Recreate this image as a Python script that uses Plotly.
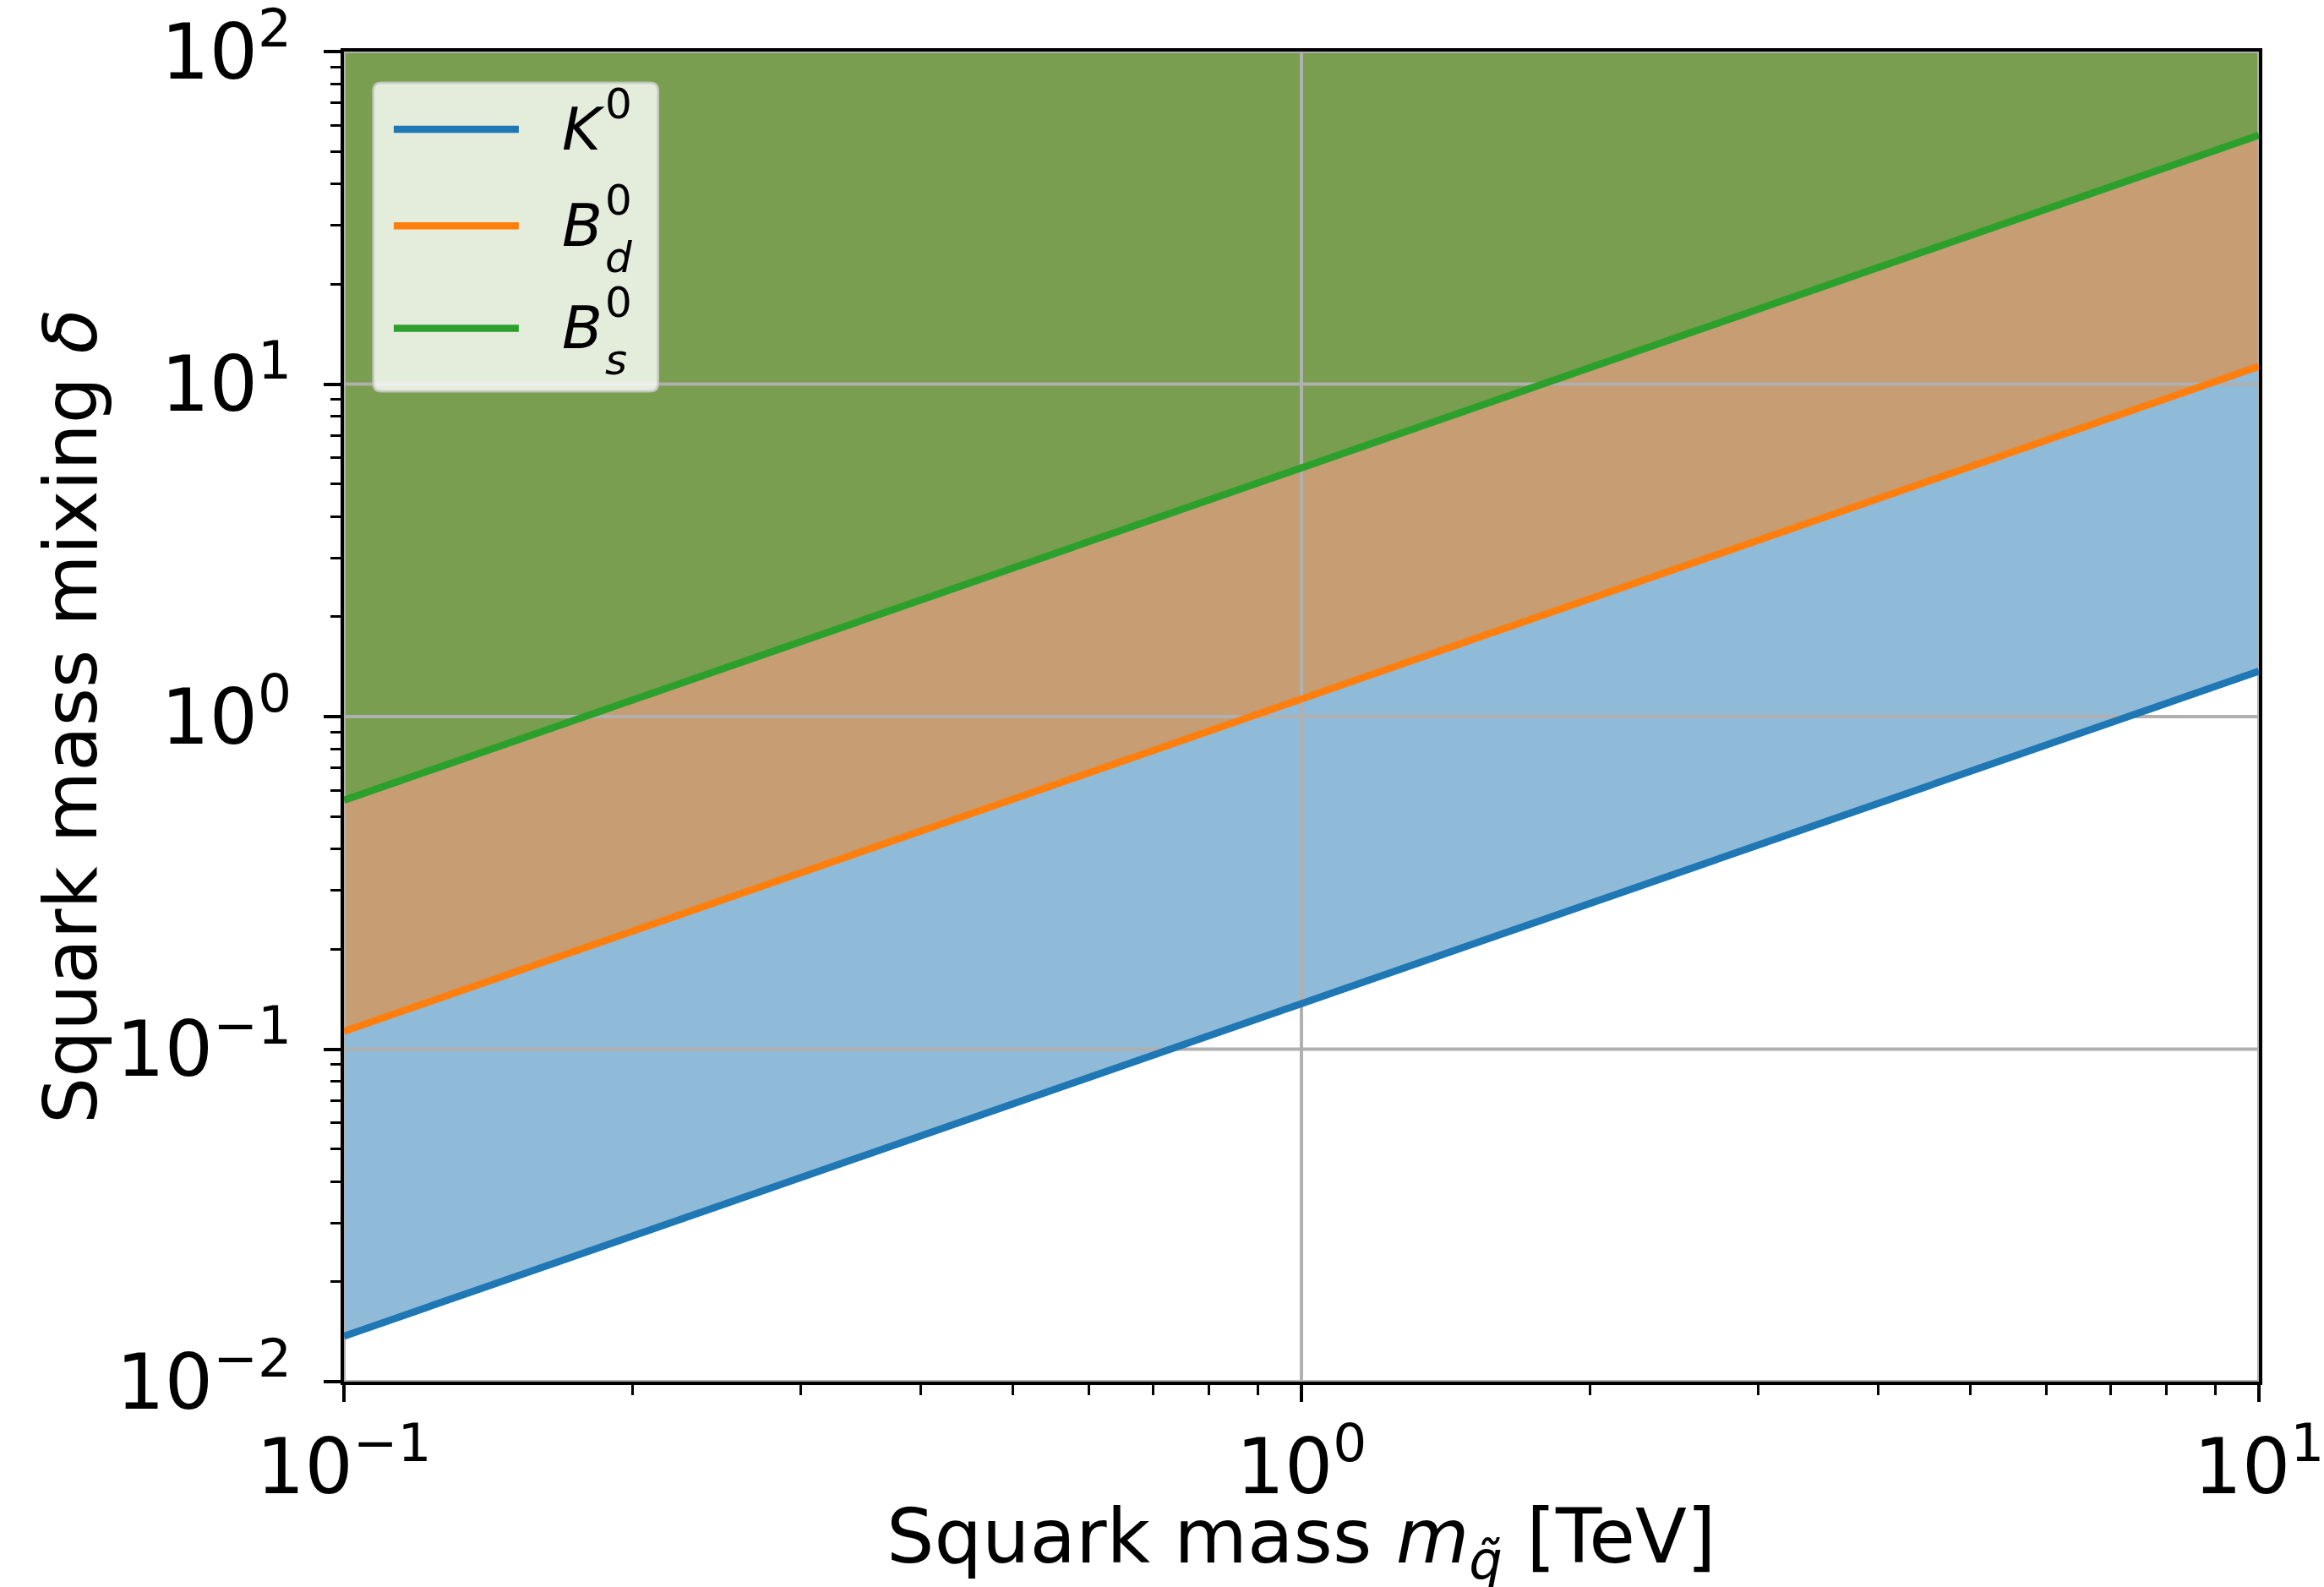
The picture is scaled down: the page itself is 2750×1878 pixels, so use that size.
import plotly.graph_objects as go

# ---- data ----
mass = [0.1, 1.0, 10.0]                 # squark mass [TeV]
k0 = [0.0137, 0.137, 1.37]              # K0 bound
bd = [0.113, 1.13, 11.3]                # Bd0 bound
bs = [0.56, 5.6, 56.0]                  # Bs0 bound
y_top = [100, 100, 100]                 # upper edge of shaded regions

series = [
    ("K0", k0, "#1f77b4", "rgba(31,119,180,0.5)"),
    ("Bd0", bd, "#ff7f0e", "rgba(255,127,14,0.5)"),
    ("Bs0", bs, "#2ca02c", "rgba(44,160,44,0.5)"),
]

x_major = [0.1, 1, 10]
x_major_text = ["10<sup>\u22121</sup>", "10<sup>0</sup>", "10<sup>1</sup>"]
y_major = [0.01, 0.1, 1, 10, 100]
y_major_text = ["10<sup>\u22122</sup>", "10<sup>\u22121</sup>", "10<sup>0</sup>",
                "10<sup>1</sup>", "10<sup>2</sup>"]
minor_x = [m * 10 ** e for e in (-1, 0) for m in range(2, 10)]
minor_y = [m * 10 ** e for e in (-2, -1, 0, 1) for m in range(2, 10)]

x_title = "Squark mass <i>m</i><sub><i>q\u0303</i></sub> [TeV]"
y_title = "Squark mass mixing <i>\u03b4</i>"

FONT = "DejaVu Sans"
LW = 8.5
fig = go.Figure()

# shaded regions
for name, vals, col, fcol in series:
    fig.add_trace(go.Scatter(x=mass, y=y_top, mode="lines", line=dict(width=0),
                             showlegend=False, hoverinfo="skip"))
    fig.add_trace(go.Scatter(x=mass, y=vals, mode="lines", line=dict(width=0),
                             fill="tonexty", fillcolor=fcol, showlegend=False,
                             hoverinfo="skip"))

# grid lines (above fills, below lines)
gx, gy = [], []
for v in x_major:
    gx += [v, v, None]
    gy += [y_major[0], y_major[-1], None]
for v in y_major:
    gx += [x_major[0], x_major[-1], None]
    gy += [v, v, None]
fig.add_trace(go.Scatter(x=gx, y=gy, mode="lines", line=dict(color="#b0b0b0", width=4),
                         showlegend=False, hoverinfo="skip"))

# bound lines
for name, vals, col, fcol in series:
    fig.add_trace(go.Scatter(x=mass, y=vals, mode="lines", name=name,
                             line=dict(color=col, width=LW), showlegend=False))

axis_common = dict(
    type="log", showgrid=False, zeroline=False, automargin=False,
    showline=True, linecolor="black", linewidth=4, mirror=True,
    ticks="outside", ticklen=20, tickwidth=4, tickcolor="black",
    tickfont=dict(family=FONT, size=90, color="black"),
    ticklabeloverflow="allow",
)
fig.update_xaxes(**axis_common, range=[-1, 1], tickvals=x_major, ticktext=x_major_text,
                 ticklabelstandoff=0,
                 minor=dict(tickvals=minor_x, ticks="outside", ticklen=12, tickwidth=3,
                            tickcolor="black", showgrid=False))
fig.update_yaxes(**axis_common, range=[-2, 2], tickvals=y_major, ticktext=y_major_text,
                 ticklabelstandoff=20,
                 minor=dict(tickvals=minor_y, ticks="outside", ticklen=12, tickwidth=3,
                            tickcolor="black", showgrid=False))

# axis titles
fig.add_annotation(x=0.5, y=-0.1205, xref="paper", yref="paper", text=x_title, showarrow=False,
                   xanchor="center", yanchor="middle", font=dict(family=FONT, size=89, color="black"))
fig.add_annotation(x=-0.1425, y=0.5, xref="paper", yref="paper", text=y_title, showarrow=False,
                   textangle=-90, xanchor="center", yanchor="middle",
                   font=dict(family=FONT, size=87, color="black"))

# custom legend (matplotlib style)
x0, x1, y0, y1 = 0.0154, 0.164, 0.7446, 0.9765
rx, ry = 0.004, 0.0058
path = (f"M {x0+rx},{y0} L {x1-rx},{y0} Q {x1},{y0} {x1},{y0+ry} "
        f"L {x1},{y1-ry} Q {x1},{y1} {x1-rx},{y1} L {x0+rx},{y1} "
        f"Q {x0},{y1} {x0},{y1-ry} L {x0},{y0+ry} Q {x0},{y0} {x0+rx},{y0} Z")
fig.add_shape(type="path", path=path, xref="paper", yref="paper",
              fillcolor="rgba(255,255,255,0.8)", line=dict(color="rgba(204,204,204,0.8)", width=3),
              layer="above")
rows = [0.9416, 0.869, 0.792]
labels = [("<i>K</i>", "0", None), ("<i>B</i>", "0", "<i>d</i>"), ("<i>B</i>", "0", "<i>s</i>")]
for (name, vals, col, fcol), yr, (base, sup, sub) in zip(series, rows, labels):
    fig.add_shape(type="line", xref="paper", yref="paper", x0=0.026, x1=0.0913, y0=yr, y1=yr,
                  line=dict(color=col, width=LW), layer="above")
    fig.add_annotation(x=0.113, y=yr, xref="paper", yref="paper", text=base, showarrow=False,
                       xanchor="left", yanchor="middle", font=dict(family=FONT, size=70, color="black"))
    fig.add_annotation(x=0.1355, y=yr + 0.019, xref="paper", yref="paper", text=sup, showarrow=False,
                       xanchor="left", yanchor="middle", font=dict(family=FONT, size=50, color="black"))
    if sub:
        fig.add_annotation(x=0.1355, y=yr - 0.024, xref="paper", yref="paper", text=sub, showarrow=False,
                           xanchor="left", yanchor="middle", font=dict(family=FONT, size=50, color="black"))

fig.update_layout(
    width=2750, height=1878,
    margin=dict(l=407, r=77, t=61, b=243),
    paper_bgcolor="white", plot_bgcolor="white",
    font=dict(family=FONT, color="black"),
    showlegend=False,
)

fig.write_html("out.html")
